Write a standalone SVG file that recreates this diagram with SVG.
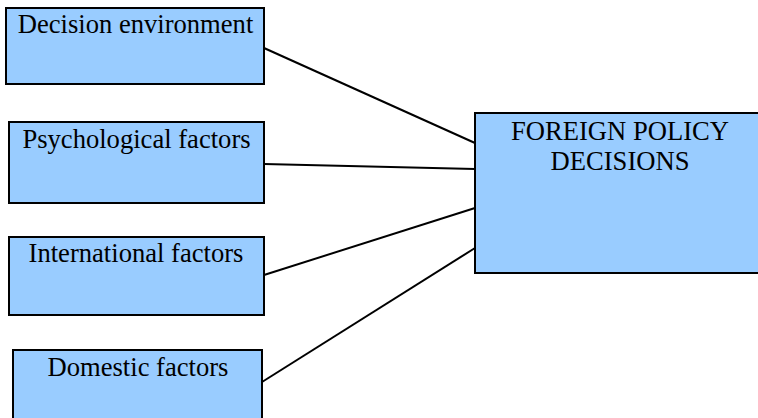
<svg xmlns="http://www.w3.org/2000/svg" width="758" height="418" viewBox="0 0 758 418">
<style>
rect{fill:#99ccff;stroke:#000;stroke-width:2}
text{font-family:"Liberation Serif","Times New Roman",serif;font-size:26.6px;fill:#000;text-anchor:middle}
line{stroke:#000;stroke-width:2}
</style>
<rect x="0" y="0" width="758" height="418" style="fill:#fff;stroke:none"/>
<g id="connectors">
<line x1="264" y1="48" x2="475" y2="143"/>
<line x1="264" y1="164" x2="475" y2="169"/>
<line x1="264" y1="275" x2="475" y2="208"/>
<line x1="262" y1="382" x2="475" y2="248"/>
</g>
<g id="n1"><rect x="6" y="8" width="258" height="76"/><text x="135.5" y="33">Decision environment</text></g>
<g id="n2"><rect x="9" y="122" width="255" height="81"/><text x="136.5" y="148">Psychological factors</text></g>
<g id="n3"><rect x="9" y="237" width="255" height="78"/><text x="136" y="262">International factors</text></g>
<g id="n4"><rect x="13" y="350" width="249" height="80"/><text x="138" y="376">Domestic factors</text></g>
<g id="n5"><rect x="475" y="113" width="290" height="160"/><text x="620" y="140">FOREIGN POLICY</text><text x="620" y="170">DECISIONS</text></g>
</svg>
